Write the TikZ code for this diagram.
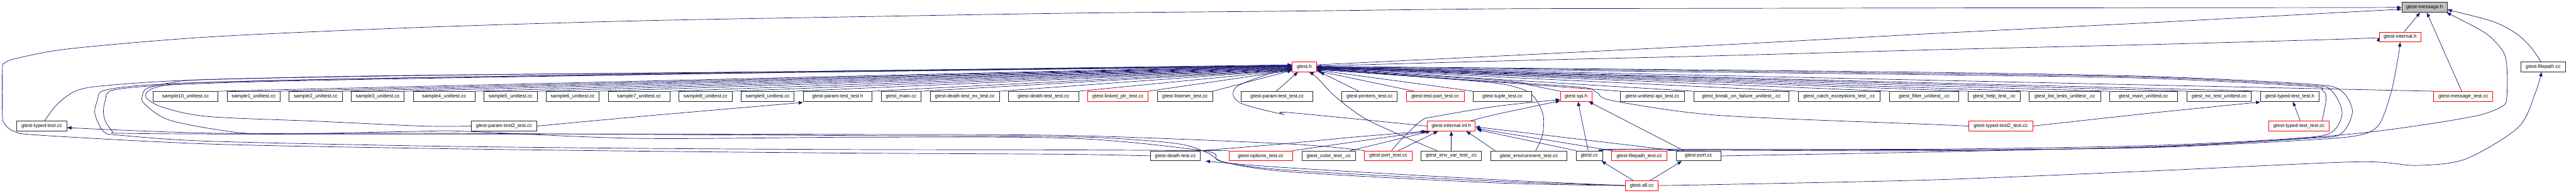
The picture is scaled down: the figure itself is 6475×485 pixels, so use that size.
\documentclass[tikz,border=0pt]{standalone}
\usepackage{fontspec}
\setmainfont{Liberation Sans}
\usetikzlibrary{arrows.meta}
\definecolor{edgec}{HTML}{191970}
\definecolor{gfill}{HTML}{BFBFBF}
\pgfdeclarelayer{bg}
\pgfsetlayers{bg,main}
\newcommand\gnode[6]{\node[#6, minimum width={(#3-#2)*1pt}] (#1) at ({(#2+#3)/2},#4) {#5};}
\begin{document}
\begin{tikzpicture}[x=1pt,y=-1pt,
 nb/.style={draw=black!85, line width=1.3pt, fill=white, inner sep=0pt, minimum height=25pt, font=\fontsize{12.5}{15}\selectfont},
 nr/.style={nb, draw=red},
 ng/.style={nb, fill=gfill},
 e/.style={draw=edgec, line width=1.1pt, -{Triangle[length=11pt,width=8.5pt]}},
]
\useasboundingbox (0,0) rectangle (6475,485);
% row 0-2
\gnode{M}{6037}{6151}{18.5}{gtest-message.h}{ng}
\gnode{I}{5981}{6085}{93}{gtest-internal.h}{nr}
\gnode{G}{3248}{3309}{168}{gtest.h}{nr}
\gnode{FP}{6337}{6448}{168}{gtest-filepath.cc}{nb}
% row 3
\gnode{s10}{385}{548}{242.5}{sample10\_unittest.cc}{nb}
\gnode{s1}{571}{704}{242.5}{sample1\_unittest.cc}{nb}
\gnode{s2}{727}{860}{242.5}{sample2\_unittest.cc}{nb}
\gnode{s3}{883}{1016}{242.5}{sample3\_unittest.cc}{nb}
\gnode{s4}{1039}{1194}{242.5}{sample4\_unittest.cc}{nb}
\gnode{s5}{1217}{1350}{242.5}{sample5\_unittest.cc}{nb}
\gnode{s6}{1373}{1506}{242.5}{sample6\_unittest.cc}{nb}
\gnode{s7}{1529}{1684}{242.5}{sample7\_unittest.cc}{nb}
\gnode{s8}{1707}{1840}{242.5}{sample8\_unittest.cc}{nb}
\gnode{s9}{1863}{1996}{242.5}{sample9\_unittest.cc}{nb}
\gnode{PH}{2019}{2192}{242.5}{gtest-param-test\_test.h}{nb}
\gnode{gmain}{2215}{2315}{242.5}{gtest\_main.cc}{nb}
\gnode{dtex}{2338}{2512}{242.5}{gtest-death-test\_ex\_test.cc}{nb}
\gnode{dtt}{2535}{2711}{242.5}{gtest-death-test\_test.cc}{nb}
\gnode{lp}{2734}{2886}{242.5}{gtest-linked\_ptr\_test.cc}{nr}
\gnode{lis}{2909}{3048}{242.5}{gtest-listener\_test.cc}{nb}
\gnode{ptc}{3120}{3300}{242.5}{gtest-param-test\_test.cc}{nb}
\gnode{prt}{3373}{3512}{242.5}{gtest-printers\_test.cc}{nb}
\gnode{tpt}{3535}{3680}{242.5}{gtest-test-part\_test.cc}{nr}
\gnode{tup}{3703}{3850}{242.5}{gtest-tuple\_test.cc}{nb}
\gnode{spi}{3922}{4001}{242.5}{gtest-spi.h}{nr}
\gnode{api}{4073}{4234}{242.5}{gtest-unittest-api\_test.cc}{nb}
\gnode{bof}{4257}{4497}{242.5}{gtest\_break\_on\_failure\_unittest\_.cc}{nb}
\gnode{cet}{4520}{4726}{242.5}{gtest\_catch\_exceptions\_test\_.cc}{nb}
\gnode{flt}{4749}{4924}{242.5}{gtest\_filter\_unittest\_.cc}{nb}
\gnode{hlp}{4947}{5078}{242.5}{gtest\_help\_test\_.cc}{nb}
\gnode{lst}{5100}{5280}{242.5}{gtest\_list\_tests\_unittest\_.cc}{nb}
\gnode{mu}{5302}{5473}{242.5}{gtest\_main\_unittest.cc}{nb}
\gnode{nt}{5497}{5659}{242.5}{gtest\_no\_test\_unittest.cc}{nb}
\gnode{tth}{5682}{5829}{242.5}{gtest-typed-test\_test.h}{nb}
\gnode{mt}{6117}{6266}{242.5}{gtest-message\_test.cc}{nr}
% row 4
\gnode{tt}{42}{168}{317}{gtest-typed-test.cc}{nb}
\gnode{pt2}{1185}{1349}{317}{gtest-param-test2\_test.cc}{nb}
\gnode{II}{3588}{3708}{317}{gtest-internal-inl.h}{nr}
\gnode{tt2}{4949}{5109}{317}{gtest-typed-test2\_test.cc}{nr}
\gnode{ttc}{5702}{5855}{317}{gtest-typed-test\_test.cc}{nr}
% row 5
\gnode{dt}{2892}{3017}{392}{gtest-death-test.cc}{nb}
\gnode{opt}{3089}{3249}{392}{gtest-options\_test.cc}{nr}
\gnode{col}{3273}{3407}{392}{gtest\_color\_test\_.cc}{nb}
\gnode{ptt}{3430}{3549}{392}{gtest-port\_test.cc}{nr}
\gnode{env}{3572}{3724}{392}{gtest\_env\_var\_test\_.cc}{nb}
\gnode{envt}{3747}{3939}{392}{gtest\_environment\_test.cc}{nb}
\gnode{gcc}{3962}{4028}{392}{gtest.cc}{nb}
\gnode{fpt}{4051}{4190}{392}{gtest-filepath\_test.cc}{nr}
\gnode{port}{4213}{4326}{392}{gtest-port.cc}{nb}
% row 6
\gnode{all}{4085}{4168}{466.5}{gtest-all.cc}{nr}

\begin{pgfonlayer}{bg}
% ---- into gtest-message.h
\draw[e] plot[smooth] coordinates {(dt.west) (2683,388) (2143,385) (1603,380) (1063,373) (523,362) (100,340) (35,330) (12,312) (6,290) (6,175) (12,158) (45,146) (180,122) (540,92) (1080,68) (1620,52) (2160,42) (2700,33) (3240,28) (3780,22) (4320,21) (4865,20) (5405,19.5) (5900,19) (M.west)};
\draw[e] plot[smooth] coordinates {([yshift=5pt]G.east) (3785,140) (4325,113) (4865,84) (5405,57) (5945,28) ([yshift=-5pt]M.west)};
\draw[e] ([xshift=10pt]I.north) -- ([xshift=-11pt]M.south);
\draw[e] ([xshift=-4pt]mt.north) -- ([xshift=6pt]M.south);
\draw[e] plot[smooth] coordinates {([xshift=-6pt]FP.north) (6360,117) (6323,83) (6263,53) ([yshift=-6pt]M.east)};
\draw[e] plot[smooth] coordinates {(port.east) (4865,382) (5400,369) (5700,354) (5930,335) (6097,313) (6230,290) (6290,267) (6301,245) (6301,165) (6290,127) (6247,83) ([xshift=-2pt]M.south east)};
% ---- into gtest-internal.h
\draw[e] plot[smooth] coordinates {([yshift=2pt]G.east) (3785,153) (4325,140) (4865,125) (5405,112) (5900,98) (I.west)};
\draw[e] plot[smooth] coordinates {([xshift=-4pt]gcc.north east) (4100,375) (4865,377) (5405,371) (5800,352) (5930,340) (5980,313) (6010,233) (6027,150) (I.south)};
% ---- into gtest-filepath.cc
\draw[e] plot[smooth] coordinates {(all.east) (4320,464) (4865,452) (5405,430) (5923,407) (6073,416) (6197,400) (6330,320) (6373,233) ([xshift=-4pt]FP.south)};
% ---- left fan into gtest.h
\foreach \n/\s in {s10/3,s1/2,s2/1,s3/0,s4/-1,s5/-2,s6/-3,s7/-4,s8/-5,s9/-6,PH/-7,gmain/-8,dtex/-8,dtt/-9,lp/-9,lis/-9}
  \draw[e] (\n.north east) -- ([yshift=\s pt]G.west);
\draw[e] plot[smooth] coordinates {([xshift=7pt]tt.north) (143,263) (190,229) (267,215) (523,200) (1200,188) (2400,176) ([yshift=4pt]G.west)};
\draw[e] plot[smooth] coordinates {(opt.north west) (2683,377) (2143,376) (1603,373) (1063,367) (523,355) (300,340) (263,333) (245,305) (238,280) (245,252) (263,227) (400,212) (800,200) (2000,180) ([yshift=3pt]G.west)};
\draw[e] plot[smooth] coordinates {(ptt.north west) (3240,362) (2700,341) (2160,338) (1620,337) (1080,337) (540,337) (300,335) (283,331) (265,305) (260,280) (265,252) (283,227) (420,214) (800,202) (2000,182) ([yshift=2pt]G.west)};
\draw[e] plot[smooth] coordinates {(pt2.west) (1063,317) (800,305) (523,293) (410,270) (367,245) (378,225) (430,212) (523,207) (1000,196) (2000,182) ([yshift=1pt]G.west)};
\draw[e] plot[smooth] coordinates {(all.west) (3763,460) (3240,432) (3067,405) (3030,380) (2700,348) (2163,345) (1603,348) (1163,330) (1063,330) (673,337) (540,325) (420,300) (362,260) (358,240) (370,222) (430,208) (523,200) (1000,190) (2000,180) ([yshift=5pt]G.west)};
\draw[e] plot[smooth] coordinates {(II.west) (3240,283) (3223,287) (3125,262) (3100,240) (3113,215) (3200,182) ([yshift=-3pt]G.west)};
\draw[e] ([xshift=-2pt]ptc.north) -- ([xshift=15pt]G.south west);
% ---- right fan into gtest.h
\draw[e] ([xshift=-27pt]prt.north) -- ([xshift=8pt]G.south east);
\draw[e] ([xshift=20pt]tpt.north west) -- ([yshift=-10pt]G.east);
\draw[e] (tup.north west) -- ([yshift=-8pt]G.east);
\draw[e] plot[smooth] coordinates {(spi.north west) (3850,215) (3780,203) ([yshift=-6pt]G.east)};
\foreach \n/\s in {api/-5,bof/-4,cet/-4,flt/-3,hlp/-3,lst/-2,mu/-2,nt/-1,tth/-1,mt/0}
  \draw[e] (\n.north west) -- ([yshift=\s pt]G.east);
\draw[e] plot[smooth] coordinates {(tt2.west) (4860,313) (4320,290) (4053,253) (4013,232) (3960,218) (3600,195) ([yshift=-4pt]G.east)};
\draw[e] plot[smooth] coordinates {([xshift=-19pt]ttc.north east) (5847,247) (5837,227) (5800,217) (5400,197) (4860,188) (4000,178) ([yshift=-2pt]G.east)};
\draw[e] plot[smooth] coordinates {(gcc.north east) (4100,376) (4865,375) (5405,366) (5767,348) (5860,333) (5887,283) (5860,228) (5800,214) (5400,194) (4860,185) (4000,175) ([yshift=0pt]G.east)};
\draw[e] plot[smooth] coordinates {(fpt.north east) (4325,378) (4865,379) (5405,370) (5800,348) (5883,337) (5913,280) (5883,227) (5800,211) (5400,192) (4860,182) (4000,173) ([yshift=1pt]G.east)};
\draw[e] plot[smooth] coordinates {([xshift=-36pt]env.north) (3440,303) (3357,243) (3310,195) ([xshift=-19pt]G.south east)};
\draw[e] plot[smooth] coordinates {([xshift=17pt]envt.north) (3877,340) (3879,290) (3857,245) (3820,222) (3720,205) ([yshift=-7pt]G.east)};
% ---- parametric / typed tests
\draw[e] plot[smooth] coordinates {(pt2.east) (1620,292) ([yshift=-2pt]PH.south west)};
\draw[e] plot[smooth] coordinates {(tt2.east) (5400,285) ([yshift=-1pt]tth.south west)};
\draw[e] ([xshift=3pt]ttc.north) -- ([xshift=8pt]tth.south);
% ---- into gtest-spi.h
\draw[e] plot[smooth] coordinates {([xshift=-13pt]II.north east) (3763,287) ([yshift=2pt]spi.south west)};
\draw[e] plot[smooth] coordinates {([xshift=8pt]ptt.north) (3523,350) (3573,303) (3607,293) (3763,267) ([yshift=-8pt]spi.west)};
\draw[e] ([xshift=-3pt]gcc.north) -- ([xshift=5pt]spi.south);
\draw[e] ([xshift=20pt]port.north west) -- ([xshift=-8pt]spi.south east);
% ---- into gtest-internal-inl.h
\draw[e] plot[smooth] coordinates {(dt.north east) (3223,362) (3400,345) ([xshift=-4pt]II.south west)};
\draw[e] (opt.north east) -- ([xshift=1pt]II.south west);
\draw[e] ([xshift=-14pt]col.north east) -- ([xshift=8pt]II.south west);
\draw[e] ([xshift=25pt]ptt.north) -- ([xshift=27pt]II.south west);
\draw[e] (env.north) -- (II.south);
\draw[e] ([xshift=12pt]envt.north west) -- ([xshift=-23pt]II.south east);
\draw[e] (gcc.north west) -- ([xshift=4pt,yshift=-9pt]II.east);
\draw[e] ([xshift=2pt]fpt.north west) -- ([xshift=2pt,yshift=-6pt]II.east);
\draw[e] (port.north west) -- ([yshift=-2pt]II.east);
% ---- from gtest-all.cc
\draw[e] ([xshift=20pt]all.north west) -- ([xshift=-3pt]gcc.south east);
\draw[e] ([xshift=-20pt]all.north east) -- ([xshift=15pt]port.south west);
\draw[e] plot[smooth] coordinates {(all.west) (3763,452) (3240,422) ([xshift=13pt]dt.south east)};
\draw[e] plot[smooth] coordinates {(all.west) (3763,456) (3240,428) (3080,408) (3032,383) (2950,360) (2700,344) (2160,341) (1620,338) (1080,335) (540,335) ([yshift=-4pt]tt.east)};
\end{pgfonlayer}
\end{tikzpicture}
\end{document}
